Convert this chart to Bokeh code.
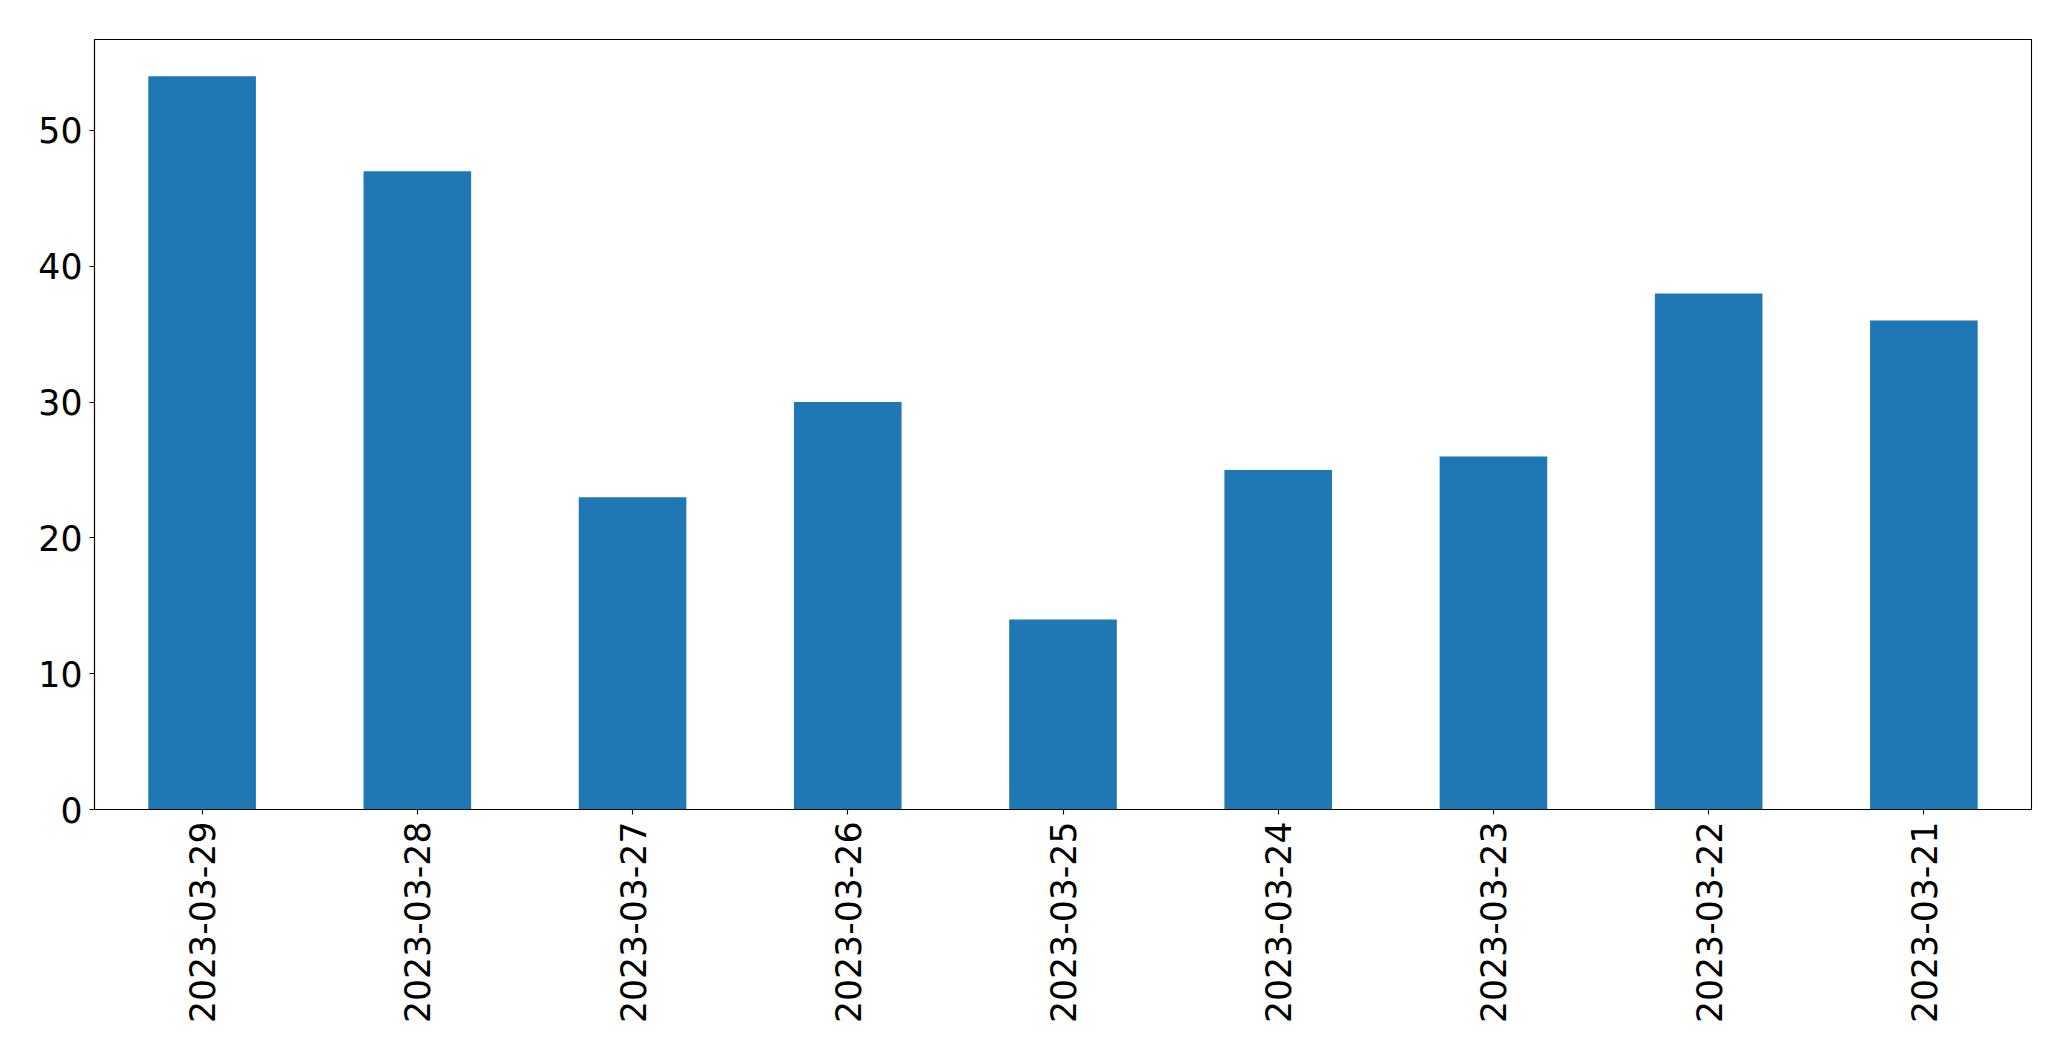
from math import pi
from bokeh.plotting import figure
from bokeh.models import ColumnDataSource, Range1d, FixedTicker
from bokeh.embed import file_html
from bokeh.resources import INLINE

dates = ["2023-03-29", "2023-03-28", "2023-03-27", "2023-03-26", "2023-03-25",
         "2023-03-24", "2023-03-23", "2023-03-22", "2023-03-21"]
counts = [54, 47, 23, 30, 14, 25, 26, 38, 36]
y_ticks = [0, 10, 20, 30, 40, 50]

src = ColumnDataSource(data=dict(date=dates, count=counts))

p = figure(x_range=dates, y_range=Range1d(0, max(counts) * 1.05),
           width=2055, height=1045, output_backend="svg", toolbar_location=None,
           min_border_left=94, min_border_top=39, min_border_right=24, min_border_bottom=236)
p.x_range.range_padding = 0
p.vbar(x="date", top="count", width=0.5, source=src, color="#1f77b4", line_color=None)

p.xgrid.visible = False
p.ygrid.visible = False
p.outline_line_color = "black"
p.outline_line_width = 1.1
p.outline_line_alpha = 1

for ax in (p.xaxis[0], p.yaxis[0]):
    ax.axis_line_color = "black"
    ax.axis_line_width = 1.1
    ax.major_tick_line_color = "black"
    ax.major_tick_line_width = 1.1
    ax.major_tick_in = 0
    ax.major_tick_out = 5
    ax.minor_tick_line_color = None
    ax.major_label_text_font = "DejaVu Sans"
    ax.major_label_text_font_size = "34.7px"
    ax.major_label_text_color = "black"

p.yaxis[0].ticker = FixedTicker(ticks=y_ticks)
p.yaxis[0].major_label_standoff = 7
p.xaxis[0].major_label_orientation = pi / 2
p.xaxis[0].major_label_standoff = 7

open("out.html", "w").write(file_html(p, INLINE))
